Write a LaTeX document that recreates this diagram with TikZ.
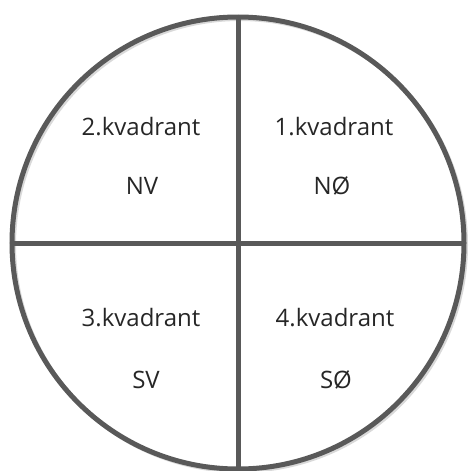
\documentclass[tikz,border=0pt]{standalone}
\usepackage{fontspec}
\setmainfont{Open Sans}
\usepackage{tikz}
\usetikzlibrary{positioning}
\definecolor{rim}{HTML}{595959}

\begin{document}
\begin{tikzpicture}[x=1pt, y=-1pt, line width=5pt, rim,
    lbl/.style = {text=black!85, font=\fontsize{24}{28}\selectfont, inner sep=0pt}]
    \useasboundingbox (0,0) rectangle (470,471);
    \coordinate (c) at (238,243);
    \coordinate (cs) at (240,245);
    \coordinate (t) at (238,17);
    \coordinate (b) at (238,469);
    \coordinate (l) at (12,243);
    \coordinate (r) at (464,243);
    % faint shadow
    \draw[black!15, line width=4pt] (cs) circle[radius=226];
    \draw (c) circle[radius=226];
    \draw (t) -- (b);
    \draw (l) -- (r);
    \node[lbl] (q2) at (141,127) {2.kvadrant};
    \node[lbl] (nv) at (142,186) {NV};
    \node[lbl] (q1) at (334,127) {1.kvadrant};
    \node[lbl] (no) at (332,186) {NØ};
    \node[lbl] (q3) at (141,318) {3.kvadrant};
    \node[lbl] (sv) at (146,380) {SV};
    \node[lbl] (q4) at (335,318) {4.kvadrant};
    \node[lbl] (so) at (336,380) {SØ};
\end{tikzpicture}
\end{document}
